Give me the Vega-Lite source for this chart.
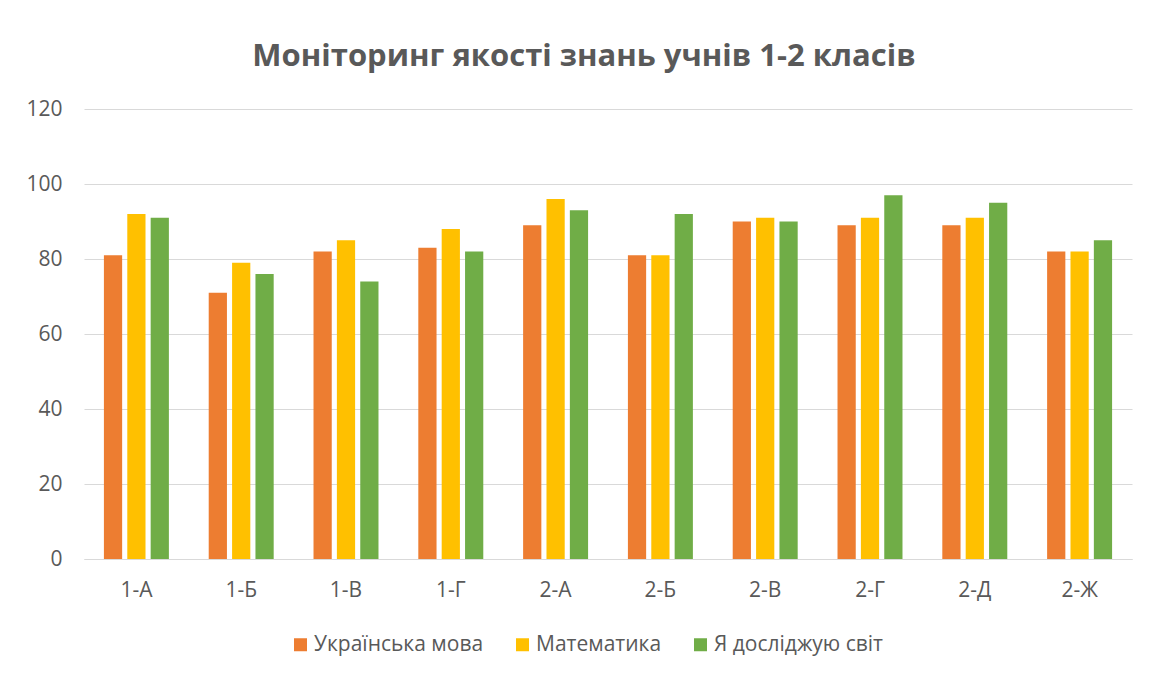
{
  "$schema": "https://vega.github.io/schema/vega-lite/v6.json",
  "width": 1048,
  "height": 450,
  "autosize": {"type": "none"},
  "padding": {"left": 84, "top": 109, "right": 17, "bottom": 115},
  "background": "white",
  "title": {
    "text": "Моніторинг якості знань учнів 1-2 класів",
    "font": "Open Sans",
    "fontSize": 31,
    "fontWeight": "bold",
    "color": "#595959",
    "anchor": "middle",
    "dx": -24,
    "offset": 25
  },
  "data": {
    "values": [
      {"class": "1-А", "subject": "Українська мова", "value": 81},
      {"class": "1-А", "subject": "Математика", "value": 92},
      {"class": "1-А", "subject": "Я досліджую світ", "value": 91},
      {"class": "1-Б", "subject": "Українська мова", "value": 71},
      {"class": "1-Б", "subject": "Математика", "value": 79},
      {"class": "1-Б", "subject": "Я досліджую світ", "value": 76},
      {"class": "1-В", "subject": "Українська мова", "value": 82},
      {"class": "1-В", "subject": "Математика", "value": 85},
      {"class": "1-В", "subject": "Я досліджую світ", "value": 74},
      {"class": "1-Г", "subject": "Українська мова", "value": 83},
      {"class": "1-Г", "subject": "Математика", "value": 88},
      {"class": "1-Г", "subject": "Я досліджую світ", "value": 82},
      {"class": "2-А", "subject": "Українська мова", "value": 89},
      {"class": "2-А", "subject": "Математика", "value": 96},
      {"class": "2-А", "subject": "Я досліджую світ", "value": 93},
      {"class": "2-Б", "subject": "Українська мова", "value": 81},
      {"class": "2-Б", "subject": "Математика", "value": 81},
      {"class": "2-Б", "subject": "Я досліджую світ", "value": 92},
      {"class": "2-В", "subject": "Українська мова", "value": 90},
      {"class": "2-В", "subject": "Математика", "value": 91},
      {"class": "2-В", "subject": "Я досліджую світ", "value": 90},
      {"class": "2-Г", "subject": "Українська мова", "value": 89},
      {"class": "2-Г", "subject": "Математика", "value": 91},
      {"class": "2-Г", "subject": "Я досліджую світ", "value": 97},
      {"class": "2-Д", "subject": "Українська мова", "value": 89},
      {"class": "2-Д", "subject": "Математика", "value": 91},
      {"class": "2-Д", "subject": "Я досліджую світ", "value": 95},
      {"class": "2-Ж", "subject": "Українська мова", "value": 82},
      {"class": "2-Ж", "subject": "Математика", "value": 82},
      {"class": "2-Ж", "subject": "Я досліджую світ", "value": 85}
    ]
  },
  "mark": {"type": "bar"},
  "encoding": {
    "x": {
      "field": "class",
      "type": "nominal",
      "sort": null,
      "scale": {"paddingInner": 0.38, "paddingOuter": 0.19},
      "axis": {
        "title": null,
        "labelAngle": 0,
        "labelFont": "Open Sans",
        "labelFontSize": 21,
        "labelColor": "#595959",
        "labelPadding": 20,
        "ticks": false,
        "domainColor": "#d9d9d9",
        "domainWidth": 1
      }
    },
    "xOffset": {
      "field": "subject",
      "type": "nominal",
      "sort": ["Українська мова", "Математика", "Я досліджую світ"],
      "scale": {"paddingInner": 0.22, "paddingOuter": 0}
    },
    "y": {
      "field": "value",
      "type": "quantitative",
      "scale": {"domain": [0, 120], "nice": false},
      "axis": {
        "title": null,
        "values": [0, 20, 40, 60, 80, 100, 120],
        "labelFont": "Open Sans",
        "labelFontSize": 21,
        "labelColor": "#595959",
        "labelPadding": 22,
        "ticks": false,
        "domain": false,
        "gridColor": "#d9d9d9",
        "gridWidth": 1
      }
    },
    "color": {
      "field": "subject",
      "type": "nominal",
      "sort": ["Українська мова", "Математика", "Я досліджую світ"],
      "scale": {
        "domain": ["Українська мова", "Математика", "Я досліджую світ"],
        "range": ["#ED7D31", "#FFC000", "#70AD47"]
      },
      "legend": {
        "title": null,
        "orient": "none",
        "legendX": 206,
        "legendY": 525,
        "direction": "horizontal",
        "symbolType": "square",
        "symbolSize": 169,
        "symbolStrokeWidth": 0,
        "labelFont": "Open Sans",
        "labelFontSize": 21,
        "labelColor": "#595959",
        "labelOffset": 3,
        "labelLimit": 0,
        "columnPadding": 28
      }
    }
  },
  "config": {
    "view": {"stroke": null}
  }
}
